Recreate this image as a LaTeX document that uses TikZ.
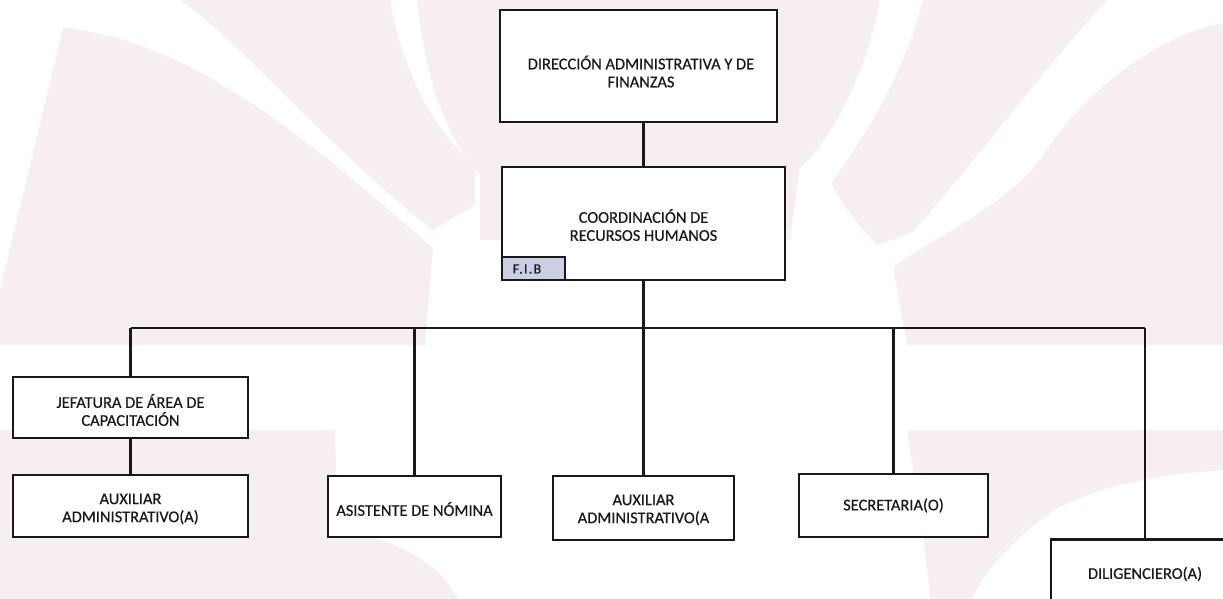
\documentclass[tikz,border=0pt]{standalone}
\usepackage{fontspec}
\setmainfont{Carlito}[FakeBold=0.5]
\definecolor{wm}{RGB}{246,238,243}
\definecolor{fibfill}{RGB}{202,208,226}
\definecolor{ink}{RGB}{25,25,25}
\begin{document}
\begin{tikzpicture}[x=1pt,y=-1pt,
  box/.style={draw=ink,line width=2.9pt,fill=white,rectangle,inner sep=0pt},
  txt/.style={align=center,inner sep=0pt,font=\fontsize{16.4}{18}\selectfont,text=ink},
  conn/.style={draw=ink,line width=2.7pt},
  wmark/.style={fill=wm,draw=none}]
\useasboundingbox (0,0) rectangle (1223,599);
\clip (0,0) rectangle (1223,599);
\fill[white] (0,0) rectangle (1223,599);
% faint watermark
\path[wmark] (63,28) .. controls (200,40) and (330,160) .. (433,248) -- (425,345) -- (0,345) -- (0,290) -- cycle;
\path[wmark] (180,0) -- (390,0) .. controls (400,60) and (430,130) .. (475,165) -- (475,205) -- (433,230) .. controls (330,150) and (250,50) .. cycle;
\path[wmark] (417,0) -- (880,0) .. controls (865,80) and (830,140) .. (800,168) -- (790,240) -- (480,240) -- (480,175) .. controls (440,130) and (425,70) .. cycle;
\path[wmark] (923,0) -- (1107,0) .. controls (1060,50) and (1000,130) .. (913,232) -- (877,245) .. controls (850,215) and (835,195) .. (832,182) .. controls (870,130) and (905,70) .. cycle;
\path[wmark] (1223,23) .. controls (1140,40) and (1070,110) .. (1040,160) .. controls (1000,210) and (930,240) .. (893,267) -- (907,345) -- (1223,345) -- cycle;
\path[wmark] (0,430) -- (335,430) -- (338,528) .. controls (400,540) and (440,565) .. (458,599) -- (0,599) -- cycle;
\path[wmark] (907,430) -- (1223,430) -- (1223,470) .. controls (1140,475) and (1070,495) .. (1040,520) .. controls (1010,545) and (985,570) .. (972,599) -- (930,599) .. controls (925,540) and (915,480) .. cycle;
% boxes
\node[box,minimum width=277pt,minimum height=112pt] (dir) at (638.5,66) {};
\node[txt] (dirtext) at (641,71.5) {DIRECCIÓN ADMINISTRATIVA Y DE\\FINANZAS};
\node[box,minimum width=283pt,minimum height=113pt] (coord) at (643.5,223.5) {};
\node[txt] (coordtext) at (643.5,225) {COORDINACIÓN DE\\RECURSOS HUMANOS};
\node[draw=ink,line width=2.3pt,fill=fibfill,minimum width=63pt,minimum height=23pt,inner sep=0pt] (fib) at (533.5,268.5) {};
\node[inner sep=0pt,font=\fontsize{14}{15}\selectfont\addfontfeature{LetterSpace=9},text=ink] (fibtext) at (527,269) {F.I.B};
\node[box,minimum width=235pt,minimum height=61pt] (jef) at (130.5,407.5) {};
\node[txt] (jeftext) at (130.5,410) {JEFATURA DE ÁREA DE\\CAPACITACIÓN};
\node[box,minimum width=235pt,minimum height=62pt] (aux1) at (130.5,506) {};
\node[txt] (aux1text) at (130.5,509) {AUXILIAR\\ADMINISTRATIVO(A)};
\node[box,minimum width=173pt,minimum height=61pt] (asis) at (414.5,506.5) {};
\node[txt] (asistext) at (414.5,509) {ASISTENTE DE NÓMINA};
\node[box,minimum width=181pt,minimum height=64pt] (aux2) at (643.5,508) {};
\node[txt] (aux2text) at (643.5,510) {AUXILIAR\\ADMINISTRATIVO(A};
\node[box,minimum width=189pt,minimum height=63pt] (sec) at (893.5,505.5) {};
\node[txt] (sectext) at (893.5,505.5) {SECRETARIA(O)};
\node[box,minimum width=188pt,minimum height=70pt] (dil) at (1145,574.5) {};
\node[txt] (diltext) at (1145,574) {DILIGENCIERO(A)};
% connectors
\coordinate (bus) at (643,328);
\draw[conn] (coord.north) -- (coord.north |- dir.south);
\draw[conn] (coord.south) -- (coord.south |- bus);
\draw[conn] (jef.north |- bus) -- (dil.north |- bus);
\draw[conn] (jef.north) -- (jef.north |- bus);
\draw[conn] (asis.north) -- (asis.north |- bus);
\draw[conn] (aux2.north) -- (aux2.north |- bus);
\draw[conn] (sec.north) -- (sec.north |- bus);
\draw[conn] (dil.north) -- (dil.north |- bus);
\draw[conn] (jef.south) -- (aux1.north);
\end{tikzpicture}
\end{document}
